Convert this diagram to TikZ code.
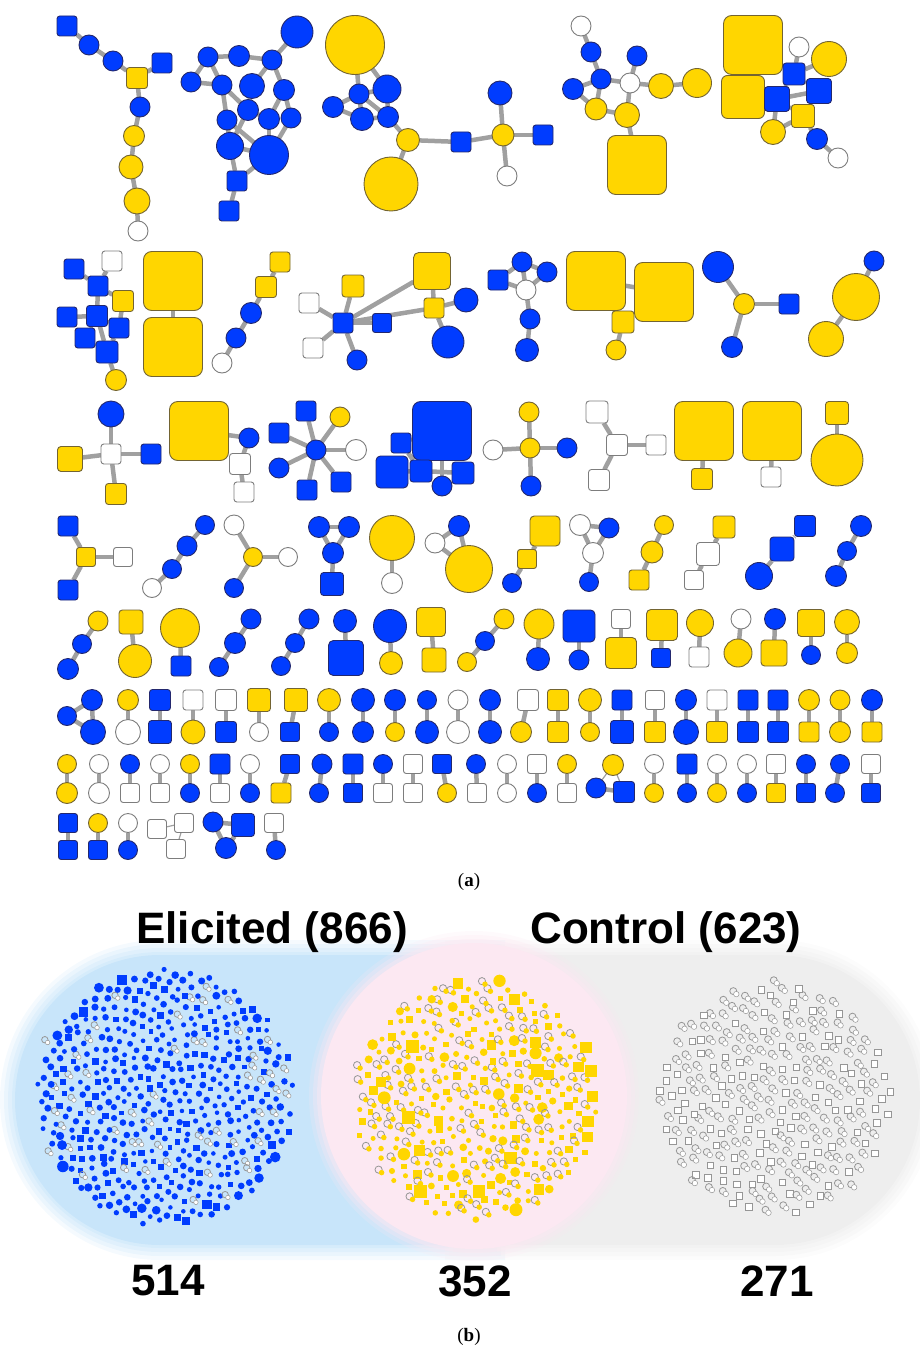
\documentclass[tikz,border=0pt]{standalone}
\usepackage{fontspec}
\setmainfont{Liberation Serif}
\newfontfamily\lsans{Liberation Sans}
\usetikzlibrary{backgrounds}
\definecolor{nblue}{RGB}{0,60,255}
\definecolor{bluebd}{RGB}{35,40,110}
\definecolor{nyel}{RGB}{255,214,0}
\definecolor{yelbd}{RGB}{115,100,50}
\definecolor{whbd}{RGB}{125,125,125}
\definecolor{lnkgray}{RGB}{160,160,160}
\definecolor{loopgray}{RGB}{150,150,150}
\definecolor{bgblue}{RGB}{200,229,250}
\definecolor{bgpink}{RGB}{252,232,242}
\definecolor{bggray}{RGB}{238,238,238}
\tikzset{
 nb/.style={inner sep=0pt,outer sep=0pt,line width=0.9pt},
 BC/.style={nb,circle,fill=nblue,draw=bluebd},
 BS/.style={nb,rectangle,fill=nblue,draw=bluebd},
 YC/.style={nb,circle,fill=nyel,draw=yelbd},
 YS/.style={nb,rectangle,fill=nyel,draw=yelbd},
 WC/.style={nb,circle,fill=white,draw=whbd},
 WS/.style={nb,rectangle,fill=white,draw=whbd},
 dotB/.style={inner sep=0pt,outer sep=0pt,fill=nblue},
 dotY/.style={inner sep=0pt,outer sep=0pt,fill=nyel},
 dotW/.style={inner sep=0pt,outer sep=0pt,fill=white,draw=loopgray,line width=0.5pt},
 selfloop/.style={draw=loopgray,line width=0.8pt},
 lnk/.style={draw=lnkgray,line width=4.5pt},
 lnkthin/.style={draw=lnkgray,line width=1.2pt},
 bignum/.style={font=\lsans\bfseries\fontsize{44}{48}\selectfont,inner sep=0pt},
 sublabel/.style={font=\fontsize{19}{21}\selectfont,inner sep=0pt},
}
\newcommand\NN[5]{\pgfmathsetmacro\rcval{#5*0.14}\node[#2,minimum size=#5pt,rounded corners=\rcval pt] (#1) at (#3,#4) {};}
\begin{document}
\begin{tikzpicture}[x=1pt,y=-1pt]
\useasboundingbox (0,0) rectangle (920,1356);
% ---------------- part (a) -----------------
% component a
\NN{a1}{BS}{67}{26}{20}\NN{a2}{BC}{89}{45}{20}\NN{a3}{BC}{113}{61}{20}
\NN{a4}{YS}{137}{78}{21}\NN{a5}{BS}{162}{63}{20}\NN{a6}{BC}{140}{107}{20}
\NN{a7}{YC}{134}{136}{21}\NN{a8}{YC}{131}{167}{24}\NN{a9}{YC}{137}{201}{26}
\NN{a10}{WC}{138}{231}{20}
% component b
\NN{b1}{BC}{297}{32}{32}\NN{b2}{BC}{208}{57}{20}\NN{b3}{BC}{239}{56}{21}
\NN{b4}{BC}{272}{60}{20}\NN{b5}{BC}{191}{82}{20}\NN{b6}{BC}{222}{85}{20}
\NN{b7}{BC}{252}{86}{25}\NN{b8}{BC}{284}{90}{21}\NN{b9}{BC}{248}{110}{21}
\NN{b10}{BC}{227}{120}{20}\NN{b11}{BC}{269}{119}{21}\NN{b12}{BC}{291}{118}{20}
\NN{b13}{BC}{230}{146}{27}\NN{b14}{BC}{269}{155}{39}\NN{b15}{BS}{237}{181}{20}
\NN{b16}{BS}{229}{211}{20}
% component c
\NN{c1}{YC}{355}{45}{59}\NN{c2}{BC}{359}{94}{20}\NN{c3}{BC}{387}{89}{28}
\NN{c4}{BC}{333}{107}{21}\NN{c5}{BC}{362}{119}{23}\NN{c6}{BC}{388}{117}{21}
\NN{c7}{YC}{408}{140}{23}\NN{c8}{YC}{391}{184}{54}\NN{c9}{BS}{461}{142}{20}
\NN{c10}{YC}{503}{135}{22}\NN{c11}{BC}{500}{93}{24}\NN{c12}{BS}{543}{135}{20}
\NN{c13}{WC}{507}{176}{20}
% component d
\NN{d1}{WC}{581}{26}{20}\NN{d2}{BC}{591}{52}{20}\NN{d3}{BC}{637}{56}{20}
\NN{d4}{BC}{601}{79}{20}\NN{d5}{BC}{573}{89}{21}\NN{d6}{WC}{630}{83}{20}
\NN{d7}{YC}{661}{86}{25}\NN{d8}{YC}{697}{83}{29}\NN{d9}{YC}{596}{109}{22}
\NN{d10}{YC}{627}{115}{25}\NN{d11}{YS}{637}{165}{59}
% component e
\NN{e1}{YS}{753}{45}{59}\NN{e2}{YS}{743}{97}{43}\NN{e3}{WC}{799}{47}{20}
\NN{e4}{YC}{829}{59}{35}\NN{e5}{BS}{794}{74}{22}\NN{e6}{BS}{819}{91}{25}
\NN{e7}{BS}{777}{99}{25}\NN{e8}{YS}{803}{116}{23}\NN{e9}{YC}{773}{132}{25}
\NN{e10}{BC}{817}{139}{21}\NN{e11}{WC}{838}{158}{20}
% row 2
\NN{f1}{WS}{112}{261}{20}\NN{f2}{BS}{74}{269}{20}\NN{f3}{BS}{98}{286}{20}
\NN{f4}{YS}{123}{301}{21}\NN{f5}{BS}{67}{317}{20}\NN{f6}{BS}{97}{316}{21}
\NN{f7}{BS}{119}{328}{20}\NN{f8}{BS}{85}{338}{20}\NN{f9}{BS}{107}{352}{22}
\NN{f10}{YC}{116}{380}{21}
\NN{g1}{YS}{173}{281}{59}\NN{g2}{YS}{173}{347}{59}
\NN{h1}{YS}{280}{262}{20}\NN{h2}{YS}{266}{287}{21}\NN{h3}{BC}{251}{313}{21}
\NN{h4}{BC}{236}{338}{20}\NN{h5}{WC}{222}{363}{20}
\NN{i1}{WS}{309}{303}{20}\NN{i2}{YS}{353}{286}{22}\NN{i3}{BS}{343}{323}{20}
\NN{i4}{BS}{382}{323}{19}\NN{i5}{WS}{313}{348}{20}\NN{i6}{BC}{357}{360}{20}
\NN{i7}{YS}{432}{271}{37}\NN{i8}{YS}{434}{308}{20}\NN{i9}{BC}{466}{300}{24}
\NN{i10}{BC}{448}{342}{32}
\NN{j1}{BS}{498}{280}{20}\NN{j2}{BC}{522}{262}{20}\NN{j3}{BC}{547}{272}{20}
\NN{j4}{WC}{526}{290}{20}\NN{j5}{BC}{530}{319}{20}\NN{j6}{BC}{527}{350}{23}
\NN{k1}{YS}{596}{281}{59}\NN{k2}{YS}{664}{292}{59}\NN{k3}{YS}{623}{322}{22}
\NN{k4}{YC}{616}{350}{20}
\NN{l1}{BC}{718}{267}{31}\NN{l2}{YC}{744}{304}{21}\NN{l3}{BS}{789}{304}{20}
\NN{l4}{BC}{732}{347}{21}
\NN{m1}{BC}{874}{261}{20}\NN{m2}{YC}{856}{297}{47}\NN{m3}{YC}{826}{339}{35}
% row 3
\NN{n1}{BC}{111}{414}{26}\NN{n2}{WS}{111}{454}{20}\NN{n3}{YS}{70}{459}{25}
\NN{n4}{BS}{151}{454}{20}\NN{n5}{YS}{116}{494}{21}
\NN{o1}{YS}{199}{431}{59}\NN{o2}{BC}{249}{438}{20}\NN{o3}{WS}{240}{464}{21}
\NN{o4}{WS}{244}{492}{20}
\NN{p1}{BC}{316}{450}{20}\NN{p2}{BS}{306}{411}{20}\NN{p3}{YC}{340}{417}{20}
\NN{p4}{BS}{279}{433}{20}\NN{p5}{WC}{356}{450}{21}\NN{p6}{BC}{279}{468}{20}
\NN{p7}{BS}{307}{490}{20}\NN{p8}{BS}{341}{482}{20}
\NN{q1}{BS}{442}{431}{59}\NN{q2}{BS}{401}{443}{20}\NN{q4}{BS}{421}{471}{22}
\NN{q3}{BS}{392}{472}{32}\NN{q5}{BC}{442}{486}{20}\NN{q6}{BS}{463}{473}{22}
\NN{r1}{WC}{493}{450}{20}\NN{r2}{YC}{529}{412}{20}\NN{r3}{YC}{530}{448}{20}
\NN{r4}{BC}{567}{448}{20}\NN{r5}{BC}{531}{486}{20}
\NN{s1}{WS}{597}{412}{22}\NN{s2}{WS}{617}{445}{21}\NN{s3}{WS}{656}{445}{20}
\NN{s4}{WS}{599}{480}{21}
\NN{t1}{YS}{704}{431}{59}\NN{t2}{YS}{702}{479}{21}
\NN{u1}{YS}{772}{431}{59}\NN{u2}{WS}{771}{477}{20}
\NN{v1}{YS}{837}{413}{23}\NN{v2}{YC}{837}{460}{52}
% row 4
\NN{w1}{BS}{68}{526}{20}\NN{w2}{YS}{86}{557}{19}\NN{w3}{WS}{123}{557}{19}\NN{w4}{BS}{68}{590}{20}
\NN{x1}{WC}{152}{588}{19}\NN{x2}{BC}{172}{569}{19}\NN{x3}{BC}{187}{546}{20}\NN{x4}{BC}{205}{525}{19}
\NN{y1}{WC}{234}{525}{20}\NN{y2}{YC}{253}{557}{19}\NN{y3}{WC}{288}{557}{19}\NN{y4}{BC}{234}{588}{19}
\NN{z1}{BC}{319}{527}{21}\NN{z2}{BC}{349}{527}{21}\NN{z3}{BC}{333}{553}{21}\NN{z4}{BS}{332}{584}{23}
\NN{A1}{YC}{392}{538}{45}\NN{A2}{WC}{392}{583}{21}
\NN{B1}{WC}{435}{543}{20}\NN{B2}{BC}{459}{526}{21}\NN{B3}{YC}{469}{569}{47}
\NN{C1}{YS}{545}{531}{30}\NN{C2}{YS}{527}{559}{19}\NN{C3}{BC}{512}{583}{19}
\NN{D1}{WC}{580}{525}{21}\NN{D2}{BC}{609}{528}{20}\NN{D3}{WC}{593}{553}{21}\NN{D4}{BC}{589}{582}{19}
\NN{E1}{YC}{664}{525}{19}\NN{E2}{YC}{652}{552}{22}\NN{E3}{YS}{639}{580}{20}
\NN{F1}{YS}{724}{527}{22}\NN{F2}{WS}{708}{554}{23}\NN{F3}{WS}{694}{580}{19}
\NN{G1}{BS}{805}{526}{21}\NN{G2}{BS}{782}{549}{24}\NN{G3}{BC}{759}{576}{27}
\NN{H1}{BC}{861}{526}{21}\NN{H2}{BC}{847}{551}{19}\NN{H3}{BC}{836}{576}{21}
% row 5
\NN{I1}{YC}{98}{621}{20}\NN{I2}{BC}{82}{644}{19}\NN{I3}{BC}{68}{669}{21}
\NN{J1}{YS}{131}{622}{24}\NN{J2}{YC}{135}{661}{33}
\NN{K1}{YC}{180}{628}{39}\NN{K2}{BS}{181}{666}{20}
\NN{L1}{BC}{251}{619}{20}\NN{L2}{BC}{235}{643}{21}\NN{L3}{BC}{219}{667}{19}
\NN{M1}{BC}{309}{619}{20}\NN{M2}{BC}{295}{643}{19}\NN{M3}{BC}{281}{666}{19}
\NN{N1}{BC}{345}{621}{23}\NN{N2}{BS}{346}{658}{35}
\NN{O1}{BC}{390}{626}{33}\NN{O2}{YC}{391}{663}{23}
\NN{P1}{YS}{431}{622}{29}\NN{P2}{YS}{434}{660}{24}
\NN{Q1}{YC}{504}{619}{20}\NN{Q2}{BC}{485}{641}{19}\NN{Q3}{YC}{467}{662}{19}
\NN{R1}{YC}{539}{624}{30}\NN{R2}{BC}{538}{659}{23}
\NN{S1}{BS}{579}{626}{32}\NN{S2}{BC}{579}{660}{20}
\NN{T1}{WS}{621}{619}{19}\NN{T2}{YS}{621}{653}{31}
\NN{U1}{YS}{662}{625}{31}\NN{U2}{BS}{661}{658}{19}
\NN{V1}{YC}{700}{623}{27}\NN{V2}{WS}{699}{657}{20}
\NN{W1}{WC}{741}{619}{20}\NN{W2}{YC}{738}{653}{28}
\NN{X1}{BC}{775}{619}{21}\NN{X2}{YS}{774}{653}{26}
\NN{Y1}{YS}{811}{623}{27}\NN{Y2}{BC}{811}{655}{19}
\NN{Z1}{YC}{847}{622}{25}\NN{Z2}{YC}{847}{653}{21}
% row 6
\NN{ta1}{BC}{67}{716}{19}\NN{ta2}{BC}{92}{700}{21}\NN{ta3}{BC}{93}{732}{25}
\foreach \xa/\ka/\za/\xb/\kb/\zb [count=\n] in {
 128/YC/21/128/WC/25, 160/BS/21/160/BS/23, 193/WS/20/193/YC/24, 226/WS/21/226/BS/21,
 259/YS/23/259/WC/19, 296/YS/23/290/BS/19, 329/YC/23/329/BC/19, 363/BC/23/363/BC/21,
 395/BC/21/395/YC/19, 427/BC/19/427/BC/23, 458/WC/20/458/WC/23, 490/BC/21/490/BC/23,
 528/WS/21/521/YC/21, 558/YS/21/558/YS/21, 590/YC/23/590/YC/19, 622/BS/20/622/BS/23,
 655/WS/19/655/YS/21, 686/BC/21/686/BC/25, 717/WS/20/717/YS/21, 748/BS/20/748/BS/21,
 778/BS/20/778/BS/21, 809/YC/21/809/YS/20, 840/YC/20/840/YC/21, 872/BC/21/872/YS/20}{
 \NN{sixt\n}{\ka}{\xa}{700}{\za}\NN{sixb\n}{\kb}{\xb}{732}{\zb}
 \begin{scope}[on background layer]\draw[lnk] (sixt\n) -- (sixb\n);\end{scope}
}
% row 7
\foreach \xa/\ka/\za/\xb/\kb/\zb [count=\n] in {
 67/YC/19/67/YC/21, 99/WC/19/99/WC/21, 130/BC/19/130/WS/19, 160/WC/19/160/WS/19,
 190/YC/19/190/BC/19, 220/BS/20/220/WS/19, 250/WC/19/250/BC/19, 290/BS/19/281/YS/20,
 322/BC/20/319/BC/19, 353/BS/20/353/BS/19, 383/BC/19/383/WS/19, 413/WS/19/413/WS/19,
 442/BS/19/447/YC/19, 476/BC/19/477/WS/19, 507/WC/19/507/WC/19, 537/WS/19/537/BC/19,
 567/YC/19/567/WS/19, 654/WC/19/654/YC/19, 687/BS/20/687/BC/19, 717/WC/19/717/YC/19,
 747/WC/19/747/BC/19, 776/WS/19/776/YS/19, 806/BC/19/806/BS/19, 840/BC/19/835/BC/19,
 871/WS/19/871/BS/19}{
 \NN{sevt\n}{\ka}{\xa}{764}{\za}\NN{sevb\n}{\kb}{\xb}{793}{\zb}
 \begin{scope}[on background layer]\draw[lnk] (sevt\n) -- (sevb\n);\end{scope}
}
\NN{tb1}{YC}{613}{765}{21}\NN{tb2}{BC}{596}{788}{20}\NN{tb3}{BS}{624}{792}{21}
% row 8
\foreach \xa/\ka/\za/\xb/\kb/\zb [count=\n] in {
 68/BS/19/68/BS/19, 98/YC/19/98/BS/19, 128/WC/19/128/BC/19, 274/WS/19/276/BC/19}{
 \NN{eigt\n}{\ka}{\xa}{823}{\za}\NN{eigb\n}{\kb}{\xb}{850}{\zb}
 \begin{scope}[on background layer]\draw[lnk] (eigt\n) -- (eigb\n);\end{scope}
}
\NN{ws1}{WS}{157}{829}{19}\NN{ws2}{WS}{184}{823}{19}\NN{ws3}{WS}{176}{849}{19}
\NN{bq1}{BC}{213}{822}{20}\NN{bq2}{BS}{243}{825}{23}\NN{bq3}{BC}{226}{848}{21}
% edges of part (a)
\begin{scope}[on background layer]
\foreach \u/\v in {a1/a2,a2/a3,a3/a4,a4/a5,a4/a6,a6/a7,a7/a8,a8/a9,a9/a10,
 b1/b4,b2/b3,b3/b4,b2/b5,b2/b6,b5/b6,b4/b8,b4/b7,b6/b9,b6/b10,b8/b12,b8/b11,b9/b11,
 b9/b13,b10/b13,b10/b14,b11/b14,b12/b14,b13/b14,b13/b15,b14/b15,b15/b16,b7/b9,
 c1/c2,c1/c3,c2/c4,c2/c3,c2/c5,c2/c6,c4/c5,c3/c6,c5/c6,c6/c7,c7/c8,c7/c9,c9/c10,
 c10/c11,c10/c12,c10/c13,
 d1/d2,d2/d4,d4/d5,d5/d9,d4/d9,d4/d6,d9/d10,d6/d3,d6/d7,d7/d8,d6/d10,d10/d11,
 e1/e5,e3/e5,e4/e5,e5/e7,e5/e6,e7/e6,e7/e8,e6/e8,e7/e9,e9/e8,e8/e10,e10/e11,e2/e7,
 f1/f3,f2/f3,f3/f6,f3/f4,f5/f6,f6/f8,f6/f9,f4/f7,f7/f9,f8/f9,f9/f10,f6/f7,
 g1/g2,h1/h2,h2/h3,h3/h4,h4/h5,
 i3/i1,i3/i2,i3/i4,i3/i5,i3/i6,i3/i7,i3/i8,i7/i8,i8/i9,i8/i10,
 j1/j2,j1/j4,j2/j3,j2/j4,j3/j4,j4/j5,j5/j6,
 k1/k2,k1/k3,k3/k4,l1/l2,l2/l3,l2/l4,m1/m2,m2/m3,
 n2/n1,n2/n3,n2/n4,n2/n5,o1/o2,o2/o3,o3/o4,
 p1/p2,p1/p3,p1/p4,p1/p5,p1/p6,p1/p7,p1/p8,
 q1/q5,q2/q4,q4/q6,q3/q4,q2/q1,
 r3/r1,r3/r2,r3/r4,r3/r5,s2/s1,s2/s3,s2/s4,t1/t2,u1/u2,v1/v2,
 w2/w1,w2/w3,w2/w4,x1/x2,x2/x3,x3/x4,y2/y1,y2/y3,y2/y4,
 z1/z2,z1/z3,z2/z3,z3/z4,A1/A2,B1/B2,B1/B3,B2/B3,C1/C2,C2/C3,
 D1/D2,D1/D3,D2/D3,D3/D4,E1/E2,E2/E3,F1/F2,F2/F3,G1/G2,G2/G3,H1/H2,H2/H3,
 I1/I2,I2/I3,J1/J2,K1/K2,L1/L2,L2/L3,M1/M2,M2/M3,N1/N2,O1/O2,P1/P2,
 Q1/Q2,Q2/Q3,R1/R2,S1/S2,T1/T2,U1/U2,V1/V2,W1/W2,X1/X2,Y1/Y2,Z1/Z2,
 ta1/ta2,ta1/ta3,ta2/ta3,tb2/tb3,bq1/bq2,bq1/bq3,bq2/bq3}{\draw[lnk] (\u) -- (\v);}
\draw[lnkthin] (tb1) -- (tb2);
\draw[lnkthin] (tb1) -- (tb3);
\draw[lnkthin] (ws1) -- (ws2);
\draw[lnkthin] (ws2) -- (ws3);
\end{scope}
\node[sublabel] (laba) at (469,882) {(\textbf{a})};
% ---------------- part (b) -----------------
\foreach \w/\o in {30/0.18,22/0.25,14/0.3,6/0.4}{
 \draw[bgblue,line width=\w pt,opacity=\o] (160,955) arc[start angle=90,end angle=270,radius=145pt] -- (490,1245) -- (490,955) -- cycle;}
\fill[bgblue] (160,955) arc[start angle=90,end angle=270,radius=145pt] -- (490,1245) -- (490,955) -- cycle;
\foreach \w/\o in {30/0.18,22/0.25,14/0.3,6/0.4}{
 \draw[bggray,line width=\w pt,opacity=\o] (460,955) -- (775,955) arc[start angle=90,end angle=-90,radius=145pt] -- (460,1245) -- cycle;}
\fill[bggray] (460,955) -- (775,955) arc[start angle=90,end angle=-90,radius=145pt] -- (460,1245) -- cycle;
\foreach \w/\o in {24/0.2,16/0.3,8/0.4}{
 \draw[bgpink,line width=\w pt,opacity=\o] (474,1096) circle[radius=153pt];}
\fill[bgpink] (474,1096) circle[radius=153pt];
\pgfmathsetseed{11}
% left disk: elicited only
\foreach \i in {1,...,514}{
 \pgfmathsetmacro\rrr{128*sqrt((\i-0.5)/514)}
 \pgfmathsetmacro\fr{\i*0.381966}
 \pgfmathsetmacro\angl{360*(\fr-floor(\fr))}
 \pgfmathsetmacro\px{165+\rrr*cos(\angl)+2*rand}
 \pgfmathsetmacro\py{1097+\rrr*sin(\angl)+2*rand}
 \pgfmathsetmacro\tv{rnd}
 \pgfmathsetmacro\sz{4.5+2.5*rnd+6*(\rrr>110)*rnd^6}
 \pgfmathtruncatemacro\kk{\tv<0.66?0:(\tv<0.88?1:2)}
 \ifcase\kk
  \node[dotB,circle,minimum size=\sz pt] (lft\i) at (\px,\py) {};
 \or
  \node[dotB,rectangle,minimum size=\sz pt] (lft\i) at (\px,\py) {};
 \or
  \draw[selfloop] (\px-2.8,\py-2.8) circle[radius=3.2pt];
  \node[dotW,circle,minimum size=4.5pt] (lft\i) at (\px,\py) {};
 \fi
}
% center disk: shared
\foreach \i in {1,...,352}{
 \pgfmathsetmacro\rrr{121*sqrt((\i-0.5)/352)}
 \pgfmathsetmacro\fr{\i*0.381966}
 \pgfmathsetmacro\angl{360*(\fr-floor(\fr))}
 \pgfmathsetmacro\px{477+\rrr*cos(\angl)+2*rand}
 \pgfmathsetmacro\py{1100+\rrr*sin(\angl)+2*rand}
 \pgfmathsetmacro\tv{rnd}
 \pgfmathsetmacro\sz{5+8*rnd^4}
 \pgfmathtruncatemacro\kk{\tv<0.38?0:(\tv<0.62?1:2)}
 \ifcase\kk
  \node[dotY,circle,minimum size=\sz pt] (mid\i) at (\px,\py) {};
 \or
  \node[dotY,rectangle,minimum size=\sz pt] (mid\i) at (\px,\py) {};
 \or
  \draw[selfloop] (\px-3,\py-3) circle[radius=3.6pt];
  \node[dotY,circle,minimum size=5.5pt] (mid\i) at (\px,\py) {};
 \fi
}
% right disk: control only
\foreach \i in {1,...,271}{
 \pgfmathsetmacro\rrr{116*sqrt((\i-0.5)/271)}
 \pgfmathsetmacro\fr{\i*0.381966}
 \pgfmathsetmacro\angl{360*(\fr-floor(\fr))}
 \pgfmathsetmacro\px{775+\rrr*cos(\angl)+2*rand}
 \pgfmathsetmacro\py{1100+\rrr*sin(\angl)+2*rand}
 \pgfmathsetmacro\tv{rnd}
 \pgfmathtruncatemacro\kk{\tv<0.6?0:1}
 \ifcase\kk
  \draw[selfloop] (\px-3,\py-3) circle[radius=3.5pt];
  \node[dotW,circle,minimum size=5.5pt] (rgt\i) at (\px,\py) {};
 \or
  \node[dotW,rectangle,minimum size=6.5pt] (rgt\i) at (\px,\py) {};
 \fi
}
\node[bignum] (elic) at (272,932) {Elicited (866)};
\node[bignum] (ctrl) at (666,932) {Control (623)};
\node[bignum] (n514) at (168,1281) {514};
\node[bignum] (n352) at (475,1281) {352};
\node[bignum] (n271) at (777,1281) {271};
\node[sublabel] (labb) at (469,1337) {(\textbf{b})};
\end{tikzpicture}
\end{document}
